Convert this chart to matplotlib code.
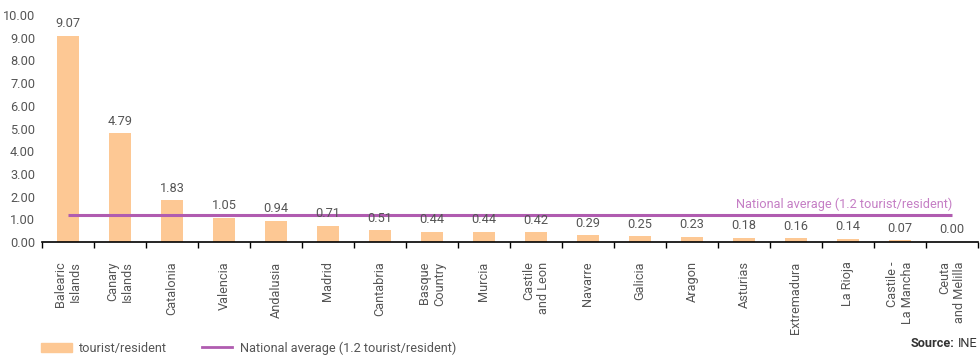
"""Tourists per resident by Spanish region, with national average."""
import numpy as np
import matplotlib.pyplot as plt
from matplotlib.lines import Line2D
import matplotlib.patches as mpatches

plt.rcParams['font.family'] = ['Roboto', 'DejaVu Sans']

REGIONS = ["Balearic\nIslands", "Canary\nIslands", "Catalonia", "Valencia",
           "Andalusia", "Madrid", "Cantabria", "Basque\nCountry", "Murcia",
           "Castile\nand Leon", "Navarre", "Galicia", "Aragon", "Asturias",
           "Extremadura", "La Rioja", "Castile -\nLa Mancha", "Ceuta\nand Melilla"]
RATIO = [9.07, 4.79, 1.83, 1.05, 0.94, 0.71, 0.51, 0.44, 0.44, 0.42,
         0.29, 0.25, 0.23, 0.18, 0.16, 0.14, 0.07, 0.00]
NATIONAL_AVG = 1.2
YTICKS = [0, 1, 2, 3, 4, 5, 6, 7, 8, 9, 10]

BAR_COLOR = "#fdc894"
LINE_COLOR = "#b05cb0"
TEXT_COLOR = "#555555"
FS = 9.2

fig = plt.figure(figsize=(9.8, 3.59), dpi=100)
ax = fig.add_axes([42 / 980, 117 / 359, 936 / 980, 227 / 359])

x = np.arange(len(REGIONS))
ax.bar(x, RATIO, width=0.42, color=BAR_COLOR, zorder=2)
ax.plot(x, [NATIONAL_AVG] * len(x), color=LINE_COLOR, lw=2.2, zorder=3,
        solid_capstyle="butt")

for xi, v in zip(x, RATIO):
    ax.text(xi, v + 0.25, f"{v:.2f}", ha="center", va="bottom",
            fontsize=FS, color=TEXT_COLOR)

ax.text(x[-1], NATIONAL_AVG + 0.15, "National average (1.2 tourist/resident)",
        ha="right", va="bottom", fontsize=FS, color="#c57ec5")

ax.set_xlim(-0.5, len(REGIONS) - 0.5)
ax.set_ylim(0, 10)
ax.set_yticks(YTICKS)
ax.set_yticklabels([f"{t:.2f}" for t in YTICKS], fontsize=FS, color=TEXT_COLOR)
ax.tick_params(axis="y", length=0, pad=5)

ax.set_xticks(np.arange(len(REGIONS) + 1) - 0.5)
ax.set_xticklabels([])
ax.tick_params(axis="x", direction="out", length=4, width=1, color="black")
ax.set_xticks(x, minor=True)
ax.set_xticklabels(REGIONS, minor=True, rotation=90, fontsize=FS,
                   color=TEXT_COLOR, ha="center", va="top",
                   multialignment="right")
ax.tick_params(axis="x", which="minor", length=0, pad=14)

for s in ["top", "right", "left"]:
    ax.spines[s].set_visible(False)
ax.spines["bottom"].set_color("black")
ax.spines["bottom"].set_linewidth(1.2)

handles = [mpatches.Patch(color=BAR_COLOR, label="tourist/resident"),
           Line2D([0], [0], color=LINE_COLOR, lw=2, label="National average (1.2 tourist/resident)")]
fig.legend(handles=handles, loc="lower left", bbox_to_anchor=(0.03, -0.02),
           ncol=2, frameon=False, fontsize=FS, handlelength=2.4,
           handletextpad=0.6, columnspacing=2.7, labelcolor=TEXT_COLOR)

ine = fig.text(0.997, 0.025, "INE", ha="right", va="bottom",
               fontsize=FS, color="#333333")
fig.canvas.draw()
bb = ine.get_window_extent()
fig.text((bb.x0 - 3) / fig.bbox.width, 0.025, "Source:", ha="right",
         va="bottom", fontsize=FS, color="#333333", fontweight="bold")

plt.savefig("out.png", dpi=100)
plt.close()
